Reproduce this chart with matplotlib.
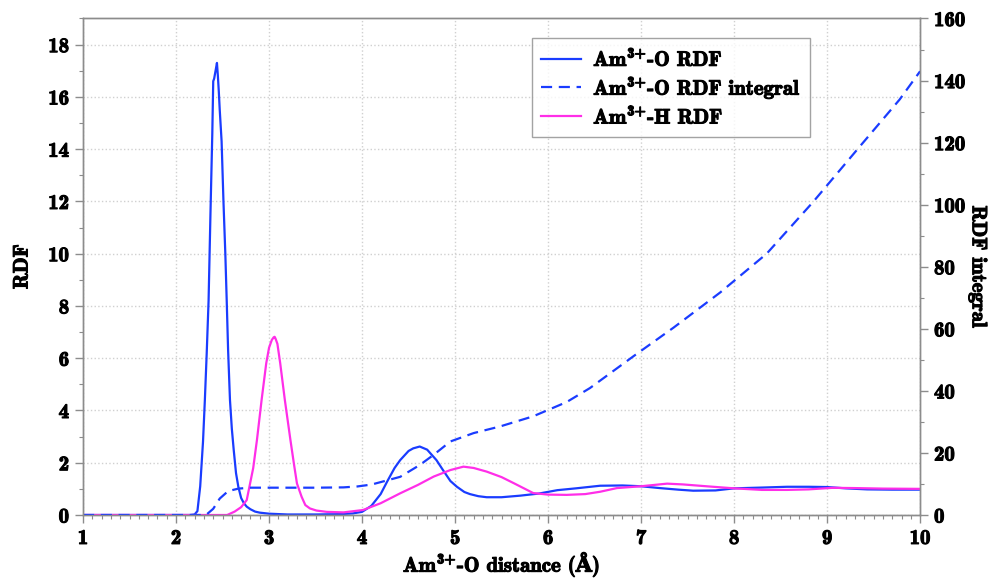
import matplotlib
matplotlib.use("Agg")
import matplotlib.pyplot as plt
import matplotlib.patheffects as pe
from matplotlib.ticker import MultipleLocator

plt.rcParams['font.family'] = ['cmb10', 'DejaVu Serif']
plt.rcParams['font.weight'] = 'bold'
plt.rcParams['mathtext.fontset'] = 'custom'
plt.rcParams['mathtext.rm'] = 'cmb10'
plt.rcParams['mathtext.bf'] = 'cmb10'
plt.rcParams['mathtext.sf'] = 'DejaVu Serif:bold'
plt.rcParams['mathtext.default'] = 'rm'
plt.rcParams['axes.unicode_minus'] = False

# Am3+-O RDF
x_o = [1.0, 2.15, 2.20, 2.23, 2.26, 2.29, 2.31, 2.33, 2.35, 2.37, 2.39, 2.40, 2.41, 2.42,
       2.43, 2.44, 2.45, 2.46, 2.47, 2.49, 2.51, 2.53, 2.545, 2.56, 2.58, 2.60, 2.62, 2.645,
       2.67, 2.70, 2.73, 2.76, 2.80, 2.85, 2.90, 3.0, 3.2, 3.5, 3.7, 3.8, 3.9, 4.0, 4.1,
       4.2, 4.27, 4.35, 4.41, 4.5, 4.55, 4.62, 4.7, 4.8, 4.87, 4.95, 5.02, 5.1, 5.16, 5.25,
       5.34, 5.5, 5.7, 5.9, 6.1, 6.3, 6.56, 6.8, 7.0, 7.2, 7.4, 7.56, 7.8, 8.0, 8.3, 8.57,
       8.8, 9.0, 9.2, 9.43, 9.7, 10.0]
g_o = [0, 0, 0.02, 0.15, 1.1, 2.8, 4.4, 6.2, 8.2, 11.5, 14.6, 16.6, 16.7, 16.9,
       17.1, 17.3, 16.8, 16.2, 15.5, 14.3, 12.0, 10.0, 8.2, 6.3, 4.4, 3.3, 2.5, 1.6,
       1.08, 0.65, 0.45, 0.32, 0.22, 0.13, 0.09, 0.05, 0.02, 0.02, 0.03, 0.04, 0.06, 0.12, 0.35,
       0.8, 1.28, 1.8, 2.1, 2.45, 2.55, 2.62, 2.5, 2.1, 1.72, 1.3, 1.08, 0.88, 0.8, 0.72,
       0.68, 0.68, 0.74, 0.82, 0.95, 1.02, 1.12, 1.13, 1.1, 1.03, 0.97, 0.93, 0.94, 1.02, 1.05, 1.08,
       1.08, 1.07, 1.02, 0.98, 0.97, 0.97]

# Am3+-H RDF
x_h = [1.0, 2.55, 2.63, 2.70, 2.76, 2.83, 2.87, 2.92, 2.97, 3.00, 3.03, 3.05, 3.06, 3.07,
       3.09, 3.12, 3.17, 3.23, 3.27, 3.30, 3.35, 3.39, 3.44, 3.51, 3.62, 3.8, 4.01, 4.2,
       4.41, 4.6, 4.77, 4.95, 5.09, 5.2, 5.34, 5.5, 5.63, 5.84, 6.0, 6.2, 6.4, 6.56, 6.74,
       7.0, 7.28, 7.45, 7.7, 8.0, 8.3, 8.57, 8.8, 9.06, 9.3, 9.6, 10.0]
g_h = [0, 0, 0.13, 0.3, 0.57, 1.8, 2.87, 4.4, 5.81, 6.4, 6.7, 6.8, 6.82, 6.75,
       6.55, 5.81, 4.4, 2.87, 1.9, 1.21, 0.7, 0.38, 0.25, 0.17, 0.12, 0.1, 0.19, 0.45,
       0.83, 1.15, 1.47, 1.72, 1.85, 1.8, 1.66, 1.45, 1.22, 0.84, 0.78, 0.77, 0.8, 0.89, 1.03,
       1.1, 1.2, 1.17, 1.1, 1.02, 0.96, 0.96, 0.98, 1.04, 1.03, 1.01, 1.0]

# Am3+-O RDF integral
x_i = [1.0, 2.30, 2.33, 2.40, 2.47, 2.56, 2.67, 2.80, 3.0, 3.5, 3.8, 3.95, 4.1, 4.25,
       4.41, 4.62, 4.77, 4.95, 5.2, 5.48, 5.84, 6.2, 6.45, 6.92, 7.35, 7.85, 8.35, 8.85,
       9.35, 9.78, 10.0]
n_i = [0, 0, 0.2, 2.0, 5.3, 7.7, 8.5, 8.8, 8.8, 8.8, 8.9, 9.2, 9.8, 11.0,
       12.3, 16.1, 19.4, 23.7, 26.4, 28.5, 31.8, 36.4, 40.9, 51.2, 60.4, 71.7, 84.2, 100.9,
       118.7, 133.9, 143.0]

blue = '#1a3cff'
magenta = '#ff2ee8'
grey = '#8c8c8c'
thick = [pe.withStroke(linewidth=0.8, foreground='black')]

fig = plt.figure(figsize=(9.93, 5.78), dpi=100)
ax = fig.add_axes([0.0836, 0.109, 0.843, 0.859])
ax2 = ax.twinx()

l1, = ax.plot(x_o, g_o, color=blue, lw=1.6, label=r'Am$^{3{+}}$-O RDF')
l3, = ax.plot(x_h, g_h, color=magenta, lw=1.6, label=r'Am$^{3{+}}$-H RDF')
l2, = ax2.plot(x_i, n_i, color=blue, lw=1.6, ls=(0, (5, 3)), label=r'Am$^{3{+}}$-O RDF integral')

ax.set_xlim(1, 10)
ax.set_ylim(0, 19)
ax2.set_ylim(0, 160)

ax.xaxis.set_major_locator(MultipleLocator(1))
ax.xaxis.set_minor_locator(MultipleLocator(0.1))
ax.yaxis.set_major_locator(MultipleLocator(2))
ax.yaxis.set_minor_locator(MultipleLocator(1))
ax2.yaxis.set_major_locator(MultipleLocator(20))
ax2.yaxis.set_minor_locator(MultipleLocator(10))

ax.grid(True, which='major', color='#d0d0d0', ls=':', lw=1.0)

for a in (ax, ax2):
    for s in a.spines.values():
        s.set_color(grey)
        s.set_linewidth(1.0)
    a.tick_params(which='major', direction='out', length=6, color=grey, labelsize=15, width=1, pad=4)
    a.tick_params(which='minor', direction='out', length=3, color=grey, width=0.8)

xl = ax.set_xlabel(r'Am$^{3{+}}$-O distance ($\mathsf{Å}$)', fontsize=15, labelpad=2)
yl = ax.set_ylabel('RDF', fontsize=15, labelpad=12)
yl2 = ax2.set_ylabel('RDF integral', fontsize=15, rotation=270, labelpad=16)

leg = ax.legend([l1, l2, l3], [l1.get_label(), l2.get_label(), l3.get_label()],
                loc='upper left', bbox_to_anchor=(0.536, 0.961), fontsize=15,
                frameon=True, fancybox=False, edgecolor=grey, handlelength=1.9,
                handletextpad=0.6, borderpad=0.45, labelspacing=0.2, borderaxespad=0)
leg.get_frame().set_linewidth(1.0)

texts = [xl, yl, yl2] + list(leg.get_texts())
for a in (ax, ax2):
    texts += a.get_xticklabels() + a.get_yticklabels()
for t in texts:
    t.set_path_effects(thick)

fig.savefig('out.png', dpi=100)
